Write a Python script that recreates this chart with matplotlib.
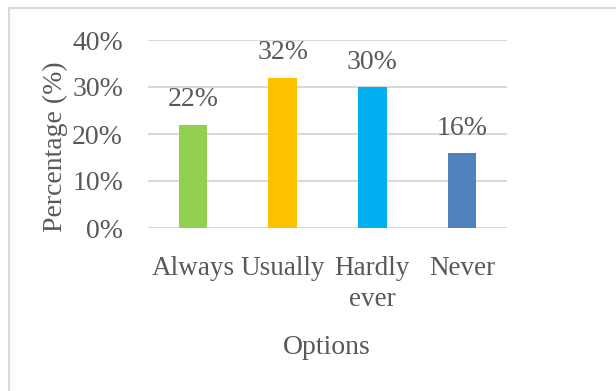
import matplotlib
matplotlib.use("Agg")
import matplotlib.pyplot as plt
from matplotlib.patches import Rectangle

categories = ["Always", "Usually", "Hardly\never", "Never"]
values = [22, 32, 30, 16]
colors = ["#92D050", "#FFC000", "#00B0F0", "#4F81BD"]
yticks = [0, 10, 20, 30, 40]

plt.rcParams['font.family'] = ['Liberation Serif', 'DejaVu Serif']
txt = "#595959"
fs = 20

fig = plt.figure(figsize=(6.16, 3.91), dpi=100)
fig.patches.append(Rectangle((9/616, -0.2), 1.2, 1.2 - 8/391, transform=fig.transFigure,
                             fill=False, edgecolor="#d9d9d9", linewidth=1.5))
ax = fig.add_axes([148/616, 1-228/391, (507-148)/616, (228-40)/391])
x = range(len(categories))
bars = ax.bar(x, values, width=0.32, color=colors, zorder=3)
for i, v in enumerate(values):
    ax.text(i, v + 2.6, f"{v}%", ha="center", va="bottom", fontsize=fs, color=txt)
ax.set_ylim(0, 40)
ax.set_xlim(-0.5, len(categories) - 0.5)
ax.set_yticks(yticks)
ax.set_yticklabels([f"{t}%" for t in yticks], fontsize=fs, color=txt)
ax.set_xticks(list(x))
ax.set_xticklabels(categories, fontsize=19.5, color=txt, linespacing=1.35)
ax.tick_params(axis='x', length=0, pad=20)
ax.tick_params(axis='y', length=0, pad=18)
ax.grid(axis="y", color="#d9d9d9", linewidth=1.5, zorder=0)
for s in ax.spines.values():
    s.set_visible(False)
fig.text(55/616, 1-147/391, "Percentage (%)", rotation=90, ha="center", va="center",
         fontsize=fs, color=txt)
fig.text(327/616, 1-348/391, "Options", ha="center", va="center", fontsize=fs, color=txt)
fig.savefig("out.png", dpi=100)
